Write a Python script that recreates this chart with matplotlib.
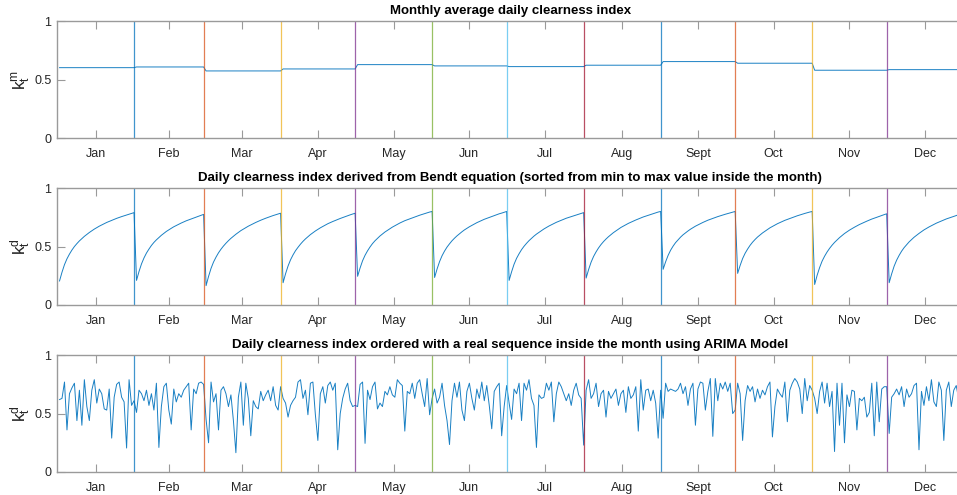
import numpy as np
import matplotlib.pyplot as plt

plt.rcParams['font.family'] = ['Liberation Sans', 'DejaVu Sans']
plt.rcParams['mathtext.fontset'] = 'custom'
plt.rcParams['mathtext.rm'] = 'Liberation Sans'

# month info
months = ['Jan', 'Feb', 'Mar', 'Apr', 'May', 'Jun', 'Jul', 'Aug', 'Sept', 'Oct', 'Nov', 'Dec']
days_in_month = [31, 28, 31, 30, 31, 30, 31, 31, 30, 31, 30, 31]

# monthly average daily clearness index
kt_month = [0.603, 0.609, 0.575, 0.592, 0.629, 0.618, 0.612, 0.624, 0.655, 0.641, 0.581, 0.586]

# daily clearness index from Bendt equation, sorted inside each month
bendt_jan = [0.205, 0.28, 0.345, 0.395, 0.435, 0.47, 0.50, 0.525, 0.548, 0.568, 0.587, 0.604, 0.62, 0.635, 0.649,
             0.662, 0.674, 0.685, 0.696, 0.706, 0.715, 0.724, 0.733, 0.741, 0.749, 0.756, 0.763, 0.770, 0.777, 0.784, 0.790]
bendt_feb = [0.21, 0.286, 0.351, 0.402, 0.444, 0.478, 0.509, 0.535, 0.557, 0.577, 0.596, 0.613, 0.629, 0.643,
             0.656, 0.669, 0.680, 0.691, 0.701, 0.711, 0.720, 0.728, 0.737, 0.744, 0.752, 0.760, 0.768, 0.775]
bendt_mar = [0.165, 0.244, 0.313, 0.367, 0.409, 0.446, 0.477, 0.504, 0.528, 0.550, 0.570, 0.588, 0.605, 0.621, 0.636,
             0.649, 0.662, 0.674, 0.685, 0.696, 0.706, 0.716, 0.725, 0.734, 0.742, 0.750, 0.757, 0.765, 0.772, 0.779, 0.785]
bendt_apr = [0.19, 0.267, 0.333, 0.386, 0.428, 0.464, 0.493, 0.520, 0.544, 0.565, 0.584, 0.602, 0.618, 0.633, 0.647,
             0.660, 0.672, 0.684, 0.695, 0.705, 0.714, 0.723, 0.732, 0.740, 0.748, 0.756, 0.764, 0.771, 0.778, 0.785]
bendt_may = [0.245, 0.316, 0.378, 0.425, 0.463, 0.496, 0.525, 0.549, 0.570, 0.590, 0.607, 0.624, 0.638, 0.653, 0.666,
             0.678, 0.690, 0.701, 0.711, 0.721, 0.729, 0.738, 0.746, 0.754, 0.761, 0.768, 0.775, 0.782, 0.788, 0.795, 0.80]
bendt_jun = [0.235, 0.308, 0.371, 0.421, 0.461, 0.495, 0.523, 0.549, 0.571, 0.591, 0.609, 0.626, 0.642, 0.656, 0.669,
             0.681, 0.693, 0.704, 0.714, 0.724, 0.733, 0.741, 0.750, 0.758, 0.765, 0.772, 0.780, 0.786, 0.793, 0.80]
bendt_jul = [0.21, 0.284, 0.349, 0.399, 0.438, 0.473, 0.502, 0.527, 0.550, 0.570, 0.589, 0.606, 0.621, 0.636, 0.650,
             0.663, 0.675, 0.686, 0.697, 0.707, 0.716, 0.725, 0.734, 0.742, 0.749, 0.757, 0.764, 0.771, 0.778, 0.785, 0.79]
bendt_aug = [0.23, 0.303, 0.366, 0.415, 0.454, 0.488, 0.517, 0.542, 0.564, 0.584, 0.602, 0.619, 0.634, 0.649, 0.663,
             0.675, 0.687, 0.698, 0.708, 0.718, 0.727, 0.736, 0.745, 0.753, 0.760, 0.768, 0.774, 0.781, 0.788, 0.795, 0.80]
bendt_sep = [0.305, 0.369, 0.424, 0.468, 0.503, 0.533, 0.557, 0.580, 0.600, 0.617, 0.633, 0.648, 0.661, 0.674, 0.685,
             0.696, 0.706, 0.716, 0.725, 0.733, 0.741, 0.749, 0.756, 0.763, 0.769, 0.776, 0.782, 0.788, 0.794, 0.80]
bendt_oct = [0.27, 0.338, 0.397, 0.442, 0.478, 0.510, 0.537, 0.560, 0.581, 0.599, 0.616, 0.631, 0.646, 0.660, 0.672,
             0.684, 0.695, 0.705, 0.715, 0.724, 0.732, 0.741, 0.749, 0.756, 0.763, 0.770, 0.776, 0.783, 0.789, 0.795, 0.80]
bendt_nov = [0.175, 0.254, 0.320, 0.375, 0.417, 0.453, 0.484, 0.511, 0.535, 0.556, 0.576, 0.594, 0.611, 0.626, 0.640,
             0.653, 0.665, 0.677, 0.688, 0.698, 0.708, 0.717, 0.726, 0.735, 0.742, 0.750, 0.758, 0.765, 0.773, 0.78]
bendt_dec = [0.19, 0.266, 0.332, 0.383, 0.424, 0.460, 0.490, 0.515, 0.539, 0.559, 0.579, 0.596, 0.612, 0.627, 0.642,
             0.655, 0.667, 0.678, 0.689, 0.700, 0.709, 0.718, 0.727, 0.736, 0.743, 0.751, 0.758, 0.765, 0.773, 0.780, 0.785]

# daily clearness index ordered with the ARIMA sequence
arima_jan = [0.62, 0.63, 0.77, 0.36, 0.67, 0.72, 0.76, 0.44, 0.70, 0.40, 0.79, 0.56, 0.44, 0.70, 0.79, 0.59,
             0.71, 0.67, 0.54, 0.53, 0.71, 0.29, 0.64, 0.75, 0.77, 0.64, 0.60, 0.205, 0.79, 0.57, 0.61]
arima_feb = [0.51, 0.70, 0.67, 0.61, 0.70, 0.57, 0.67, 0.53, 0.76, 0.21, 0.56, 0.73, 0.76, 0.53, 0.41, 0.71,
             0.60, 0.67, 0.64, 0.70, 0.73, 0.76, 0.36, 0.71, 0.67, 0.76, 0.77, 0.75]
arima_mar = [0.45, 0.25, 0.77, 0.60, 0.67, 0.36, 0.70, 0.73, 0.67, 0.56, 0.66, 0.44, 0.165, 0.64, 0.77, 0.40,
             0.76, 0.63, 0.31, 0.61, 0.56, 0.54, 0.69, 0.61, 0.66, 0.70, 0.61, 0.73, 0.57, 0.53, 0.73]
arima_apr = [0.63, 0.59, 0.47, 0.57, 0.61, 0.64, 0.77, 0.79, 0.63, 0.70, 0.49, 0.76, 0.77, 0.49, 0.27, 0.67,
             0.73, 0.59, 0.74, 0.77, 0.70, 0.76, 0.19, 0.50, 0.63, 0.71, 0.76, 0.61, 0.56, 0.57]
arima_may = [0.56, 0.75, 0.77, 0.245, 0.70, 0.62, 0.73, 0.77, 0.54, 0.59, 0.56, 0.69, 0.66, 0.73, 0.66, 0.64,
             0.79, 0.76, 0.74, 0.35, 0.69, 0.67, 0.76, 0.63, 0.76, 0.79, 0.67, 0.56, 0.80, 0.49, 0.63]
arima_jun = [0.71, 0.59, 0.64, 0.76, 0.57, 0.44, 0.235, 0.61, 0.76, 0.64, 0.77, 0.53, 0.44, 0.69, 0.76, 0.63,
             0.53, 0.71, 0.63, 0.77, 0.61, 0.74, 0.57, 0.37, 0.69, 0.73, 0.76, 0.31, 0.56, 0.74]
arima_jul = [0.59, 0.45, 0.71, 0.67, 0.76, 0.44, 0.76, 0.70, 0.79, 0.63, 0.57, 0.21, 0.66, 0.63, 0.64, 0.76,
             0.70, 0.77, 0.43, 0.67, 0.77, 0.73, 0.67, 0.61, 0.67, 0.57, 0.70, 0.76, 0.66, 0.63, 0.23]
arima_aug = [0.70, 0.79, 0.63, 0.67, 0.76, 0.56, 0.67, 0.70, 0.47, 0.69, 0.63, 0.67, 0.71, 0.57, 0.67, 0.70,
             0.51, 0.73, 0.63, 0.66, 0.73, 0.35, 0.79, 0.53, 0.70, 0.71, 0.61, 0.70, 0.59, 0.29, 0.70]
arima_sep = [0.46, 0.76, 0.69, 0.71, 0.70, 0.69, 0.71, 0.76, 0.67, 0.73, 0.57, 0.71, 0.76, 0.40, 0.71, 0.77,
             0.76, 0.53, 0.69, 0.80, 0.305, 0.80, 0.61, 0.76, 0.71, 0.77, 0.69, 0.76, 0.50, 0.53]
arima_oct = [0.76, 0.67, 0.27, 0.61, 0.74, 0.69, 0.73, 0.60, 0.71, 0.63, 0.70, 0.66, 0.73, 0.77, 0.30, 0.56,
             0.71, 0.67, 0.64, 0.77, 0.43, 0.70, 0.76, 0.80, 0.77, 0.71, 0.50, 0.80, 0.61, 0.74, 0.70]
arima_nov = [0.63, 0.50, 0.69, 0.77, 0.59, 0.76, 0.56, 0.69, 0.175, 0.76, 0.40, 0.76, 0.25, 0.66, 0.56, 0.70,
             0.69, 0.36, 0.63, 0.61, 0.64, 0.47, 0.51, 0.76, 0.31, 0.77, 0.43, 0.71, 0.73, 0.73]
arima_dec = [0.33, 0.64, 0.67, 0.71, 0.66, 0.73, 0.56, 0.71, 0.64, 0.67, 0.74, 0.76, 0.19, 0.69, 0.57, 0.73,
             0.61, 0.79, 0.60, 0.56, 0.77, 0.70, 0.27, 0.70, 0.77, 0.56, 0.70, 0.74, 0.62, 0.70, 0.66]

bendt = np.concatenate([bendt_jan, bendt_feb, bendt_mar, bendt_apr, bendt_may, bendt_jun,
                        bendt_jul, bendt_aug, bendt_sep, bendt_oct, bendt_nov, bendt_dec])
arima = np.concatenate([arima_jan, arima_feb, arima_mar, arima_apr, arima_may, arima_jun,
                        arima_jul, arima_aug, arima_sep, arima_oct, arima_nov, arima_dec])
monthly = np.repeat(kt_month, days_in_month)

day = np.arange(1, 366)
ends = np.cumsum(days_in_month)
mid = ends - np.array(days_in_month) / 2.0

# MATLAB default color order
mcolors = [(0, 0.447, 0.741), (0.85, 0.325, 0.098), (0.929, 0.694, 0.125),
           (0.494, 0.184, 0.556), (0.466, 0.674, 0.188), (0.301, 0.745, 0.933),
           (0.635, 0.078, 0.184)]
blue = (0, 0.447, 0.741)
grey = '#9a9a9a'

fig = plt.figure(figsize=(9.57, 4.95), dpi=100)

panels = [
    (monthly, 'Monthly average daily clearness index', r'$\mathregular{k_t^m}$', 0.721),
    (bendt, 'Daily clearness index derived from Bendt equation (sorted from min to max value inside the month)',
     r'$\mathregular{k_t^d}$', 0.384),
    (arima, 'Daily clearness index ordered with a real sequence inside the month using ARIMA Model',
     r'$\mathregular{k_t^d}$', 0.0465),
]

for y, title, ylab, bot in panels:
    ax = fig.add_axes([0.0596, bot, 0.9474, 0.236])
    ax.plot(day, y, color=blue, lw=0.7, alpha=0.9)
    for i, e in enumerate(ends[:-1]):
        ax.axvline(e, color=mcolors[i % 7], lw=0.9, alpha=0.75)
    ax.set_xlim(0, 365)
    ax.set_ylim(0, 1)
    ax.set_xticks(mid)
    ax.set_xticklabels(months)
    ax.set_yticks([0, 0.5, 1])
    ax.set_yticklabels(['0', '0.5', '1'])
    ax.tick_params(direction='in', length=6, width=0.8, color=grey, labelsize=9,
                   labelcolor='#262626', top=True)
    ax.tick_params(axis='x', pad=7)
    ax.tick_params(axis='y', pad=4)
    for s in ax.spines.values():
        s.set_color(grey)
        s.set_linewidth(1.0)
    ax.set_title(title, fontsize=9.5, fontweight='bold', pad=5)
    ax.set_ylabel(ylab, fontsize=12.5, color='#262626', labelpad=1)

fig.savefig('out.png', dpi=100)
